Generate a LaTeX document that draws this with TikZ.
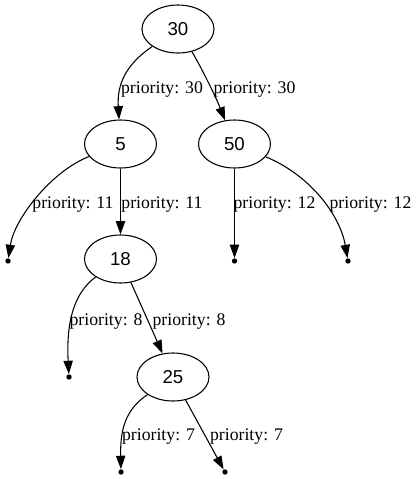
\documentclass[tikz,border=0pt]{standalone}
\usepackage{fontspec}
\setmainfont{Liberation Serif}
\newfontfamily\keyfont{Liberation Sans}
\usetikzlibrary{arrows.meta,shapes.geometric}
\begin{document}
\begin{tikzpicture}[x=0.75pt,y=-0.75pt,
  keynode/.style={draw,ellipse,line width=0.8pt,minimum width=54pt,minimum height=36pt,
    inner sep=0pt,font=\keyfont\fontsize{14}{16}\selectfont},
  leaf/.style={circle,fill=black,inner sep=0pt,minimum size=4pt},
  edge/.style={line width=0.8pt,-{Triangle[length=10pt,width=7pt]}},
  prio/.style={anchor=base,inner sep=0pt,font=\fontsize{13.3}{16}\selectfont}]
\useasboundingbox (0,0) rectangle (418,479);
% keys of the tree
\node[keynode] (n30) at (178,29) {30};
\node[keynode] (n5)  at (120.5,144) {5};
\node[keynode] (n50) at (234.5,144) {50};
\node[keynode] (n18) at (120.5,259) {18};
\node[keynode] (n25) at (173,377) {25};
% empty subtrees
\node[leaf] (l5)   at (8,261) {};
\node[leaf] (l50a) at (234.5,261) {};
\node[leaf] (l50b) at (348,261) {};
\node[leaf] (l18)  at (69,377) {};
\node[leaf] (l25a) at (121,472) {};
\node[leaf] (l25b) at (225,472) {};
% edges
\draw[edge] (n30) .. controls (125,65) and (117,85) .. (n5);
\draw[edge] (n30) .. controls (200,65) and (215,95) .. (n50);
\draw[edge] (n5) .. controls (50,172) and (14,220) .. (l5);
\draw[edge] (n5) -- (n18);
\draw[edge] (n50) -- (l50a);
\draw[edge] (n50) .. controls (310,175) and (340,215) .. (l50b);
\draw[edge] (n18) .. controls (75,292) and (66,320) .. (l18);
\draw[edge] (n18) -- (n25);
\draw[edge] (n25) .. controls (128,408) and (120,425) .. (l25a);
\draw[edge] (n25) -- (l25b);
% edge labels
\node[prio] (p30a) at (162,93) {priority: 30};
\node[prio] (p30b) at (254.5,93) {priority: 30};
\node[prio] (p11a) at (73,208) {priority: 11};
\node[prio] (p11b) at (162,208) {priority: 11};
\node[prio] (p12a) at (274.5,208) {priority: 12};
\node[prio] (p12b) at (370.5,208) {priority: 12};
\node[prio] (p8a) at (106,325) {priority: 8};
\node[prio] (p8b) at (189,325) {priority: 8};
\node[prio] (p7a) at (158.5,440) {priority: 7};
\node[prio] (p7b) at (246.5,440) {priority: 7};
\end{tikzpicture}
\end{document}
